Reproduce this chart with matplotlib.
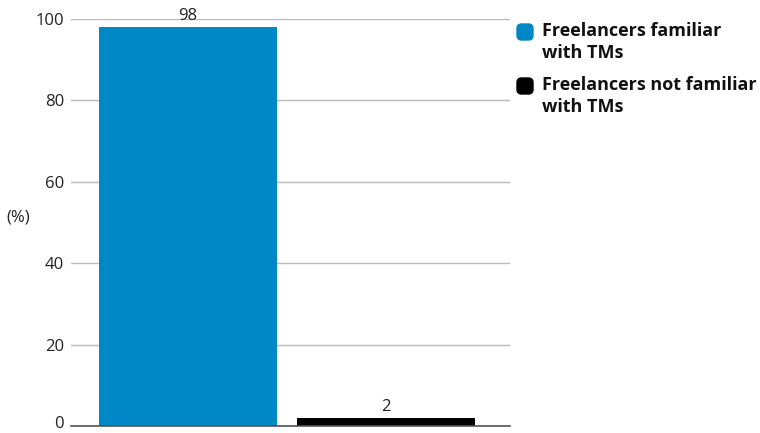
import matplotlib.pyplot as plt
import matplotlib.transforms as mtransforms
from matplotlib.patches import FancyBboxPatch

categories = ['Freelancers familiar\nwith TMs', 'Freelancers not familiar\nwith TMs']
values = [98, 2]
colors = ['#0088c6', '#000000']

plt.rcParams['font.family'] = ['Open Sans', 'DejaVu Sans']

fig = plt.figure(figsize=(7.6, 4.33), dpi=100)
ax = fig.add_axes([0.0934, 0.0162, 0.578, 0.94])

x = list(range(len(values)))
bars = ax.bar(x, values, width=0.9, color=colors, zorder=3)
for b, v in zip(bars, values):
    ax.text(b.get_x() + b.get_width() / 2, v + 0.7, str(v),
            ha='center', va='bottom', fontsize=12, color='#222222', zorder=4)

ax.set_xlim(-0.59, 1.63)
ax.set_ylim(0, 100)
ax.set_yticks(range(0, 101, 20))
ax.set_xticks([])
ax.tick_params(axis='y', length=0, pad=5, labelsize=12, labelcolor='#222222')
for lbl in ax.get_yticklabels():
    lbl.set_verticalalignment('center_baseline')
# keep the bottom "0" label inside the figure edge
zero = ax.get_yticklabels()[0]
zero.set_verticalalignment('bottom')
zero.set_transform(zero.get_transform() +
                   mtransforms.ScaledTranslation(0, -6 / 100, fig.dpi_scale_trans))
ax.grid(axis='y', color='#bbbbbb', linewidth=1, zorder=0)
for s in ['top', 'right', 'left']:
    ax.spines[s].set_visible(False)
ax.spines['bottom'].set_color('#555555')
ax.spines['bottom'].set_linewidth(1.2)
ax.spines['bottom'].set_zorder(5)

fig.text(18 / 760, 1 - 218 / 433, '(%)', ha='center', va='center',
         fontsize=12, color='#222222')

# legend drawn by hand: rounded swatches with bold two-line labels
text_y = [1 - 42 / 433, 1 - 96 / 433]
swatch_y = [1 - 40 / 433, 1 - 94 / 433]
for lab, c, ty, sy in zip(categories, colors, text_y, swatch_y):
    sw = FancyBboxPatch((517 / 760, sy), 16 / 760, 16 / 433,
                        boxstyle='round,pad=0,rounding_size=0.006',
                        transform=fig.transFigure, color=c,
                        mutation_aspect=760 / 433)
    fig.patches.append(sw)
    fig.text(542 / 760, ty, lab, ha='left', va='center', fontsize=13,
             fontweight='bold', color='#111111', linespacing=1.35)

fig.savefig('out.png', dpi=100)
